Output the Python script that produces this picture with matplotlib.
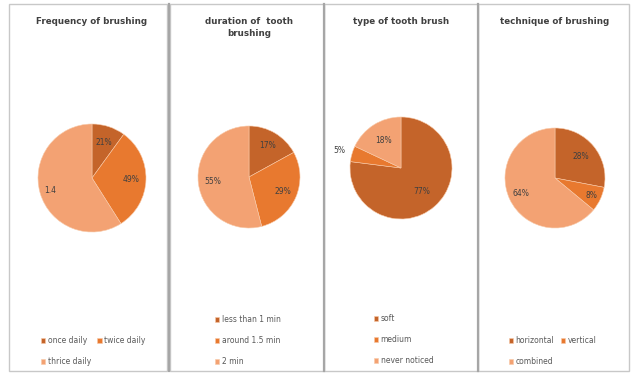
import numpy as np
import matplotlib
matplotlib.use('Agg')
from matplotlib import pyplot as plt
from matplotlib.patches import Rectangle

W, H = 631, 374

titles = ['Frequency of brushing', 'duration of  tooth\nbrushing',
          'type of tooth brush', 'technique of brushing']

freq_names = ['once daily', 'twice daily', 'thrice daily']
freq_values = [10, 31, 59]
freq_labels = ['21%', '49%', '1.4']

dur_names = ['less than 1 min', 'around 1.5 min', '2 min']
dur_values = [17, 29, 54]
dur_labels = ['17%', '29%', '55%']

type_names = ['soft', 'medium', 'never noticed']
type_values = [77, 5, 18]
type_labels = ['77%', '5%', '18%']

tech_names = ['horizontal', 'vertical', 'combined']
tech_values = [28, 8, 64]
tech_labels = ['28%', '8%', '64%']

colors = ['#C4642A', '#E8792F', '#F3A273']
title_color = '#404040'
text_color = '#595959'

fig = plt.figure(figsize=(W / 100, H / 100), dpi=100)
fig.patch.set_facecolor('white')


def px(x, y):
    return x / W, 1 - y / H


# panel frames (left, right)
frames = [(9, 167), (170, 324), (324, 478), (478, 629)]
for left, right in frames:
    x0, y1 = px(left, 4)
    x1, y0 = px(right, 371)
    fig.add_artist(Rectangle((x0, y0), x1 - x0, y1 - y0, transform=fig.transFigure,
                             fill=False, edgecolor='#C8C8C8', lw=1.0))
# thicker separators between panels
for xs in [168.5, 324, 478]:
    fig.add_artist(plt.Line2D([xs / W, xs / W], [1 - 371 / H, 1 - 4 / H],
                              transform=fig.transFigure, color='#A6A6A6', lw=1.6))


def draw_pie(cx, cy, r, values, labels, dists, title, title_y, names, leg_x, leg_y, ncol):
    x0, y0 = px(cx - r, cy + r)
    ax = fig.add_axes([x0, y0, 2 * r / W, 2 * r / H])
    wedges, _ = ax.pie(values, colors=colors, startangle=90, counterclock=False,
                       wedgeprops=dict(edgecolor='#F8C9A8', linewidth=0.4))
    ax.set_xlim(-1, 1)
    ax.set_ylim(-1, 1)
    ax.set_aspect('equal')
    for w, lab, d in zip(wedges, labels, dists):
        ang = np.deg2rad((w.theta1 + w.theta2) / 2)
        ax.text(d * np.cos(ang), d * np.sin(ang), lab, ha='center', va='center',
                fontsize=5.5, color='#404040')
    tx, ty = px(cx, title_y)
    fig.text(tx, ty, title, ha='center', va='top', fontsize=6.3, fontweight='bold',
             color=title_color, linespacing=1.5)
    handles, texts = list(wedges), list(names)
    if ncol == 2:
        # row-major order: first two on the top row, third below
        handles = [handles[0], handles[2], handles[1]]
        texts = [texts[0], texts[2], texts[1]]
    lx, ly = px(leg_x, leg_y)
    fig.legend(handles, texts, loc='upper left', bbox_to_anchor=(lx, ly), ncol=ncol,
               frameon=False, fontsize=5.5, labelcolor=text_color, handlelength=0.6,
               handleheight=0.6, handletextpad=0.3, columnspacing=0.8, labelspacing=1.6,
               borderpad=0)


draw_pie(92, 178, 54, freq_values, freq_labels, [0.7, 0.72, 0.8],
         titles[0], 17, freq_names, 37, 332, 2)
draw_pie(249, 177, 51, dur_values, dur_labels, [0.72, 0.72, 0.72],
         titles[1], 17, dur_names, 211, 311, 1)
draw_pie(401, 168, 51, type_values, type_labels, [0.62, 1.25, 0.65],
         titles[2], 17, type_names, 370, 310, 1)
draw_pie(555, 178, 50, tech_values, tech_labels, [0.68, 0.8, 0.75],
         titles[3], 17, tech_names, 505, 332, 2)

plt.savefig('out.png', dpi=100, facecolor='white')
